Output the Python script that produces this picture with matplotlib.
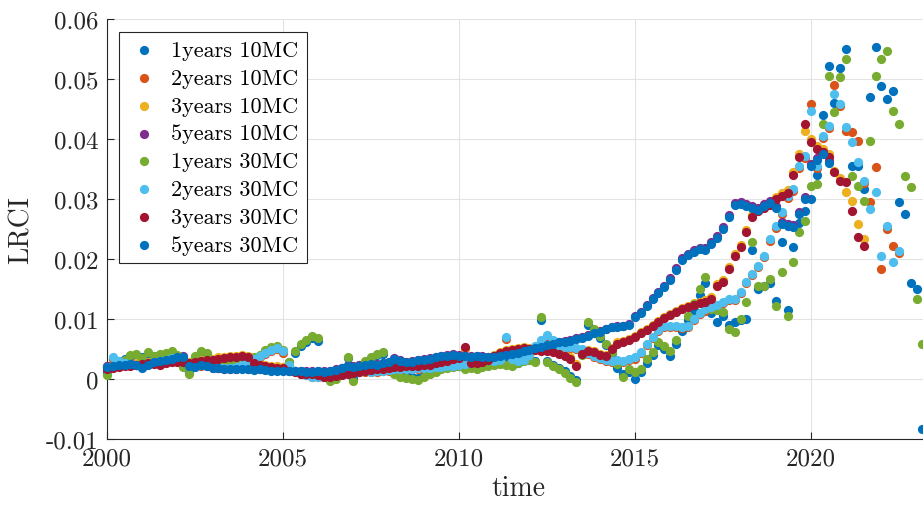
import numpy as np
import matplotlib
matplotlib.use("Agg")
import matplotlib.pyplot as plt

# LRCI values in units of 1e-3, one value every two months from Jan 2000
y1_10mc = [1.2, 2.4, 3.0, 3.4, 3.8, 4.0, 3.6, 4.2, 3.9, 4.0, 4.1, 4.3,
           3.8, 2.2, 1.2, 3.6, 4.4, 4.2, 3.1, 2.8, 3.0, 2.9, 2.7, 3.0,
           3.2, 3.5, 3.9, 4.6, 5.0, 5.2, 4.6, 2.9, 4.4, 5.5, 6.2, 6.8,
           6.4, 0.8, 0.1, 0.3, 1.8, 3.5, 0.2, 2.3, 2.9, 3.4, 4.0, 4.2,
           2.1, 1.1, 0.6, 0.5, 0.3, 0.2, 0.6, 1.0, 1.4, 1.8, 2.0, 2.1,
           2.2, 1.9, 2.0, 1.9, 2.1, 2.4, 2.5, 2.6, 2.5, 2.4, 2.7, 3.1,
           3.2, 3.0, 9.8, 3.0, 2.4, 1.9, 1.3, 0.5, -0.2, 4.2, 9.0, 8.0,
           6.9, 5.6, 4.3, 1.8, 0.8, 1.2, 0.0, 1.2, 2.6, 4.0, 5.6, 5.0,
           3.8, 5.8, 8.0, 9.8, 11.5, 14.0, 16.0, 11.0, 9.5, 10.5, 9.0, 9.5,
           9.8, 10.0, 21.5, 15.0, 15.5, 16.0, 13.0, 22.8, 11.5, 22.0, 26.0, 28.0,
           30.0, 34.0, 44.0, 52.2, 46.0, 51.8, 55.0, 35.5, 35.5, 31.7, 47.0, 55.3,
           48.8, 46.7, 48.0, 29.5, 27.5, 16.0, 15.0, -8.3]
y2_10mc = [2.2, 3.3, 2.8, 2.5, 2.4, 2.3, 2.2, 2.5, 2.8, 2.9, 3.1, 3.3,
           3.2, 3.0, 2.5, 2.3, 2.2, 2.3, 2.1, 1.9, 1.7, 1.7, 1.9, 2.2,
           2.6, 3.1, 3.6, 4.1, 4.6, 5.0, 4.4, 2.3, 1.3, 0.9, 0.6, 0.4,
           0.3, 0.4, 0.6, 0.7, 0.9, 1.0, 1.1, 1.1, 1.2, 1.1, 1.2, 1.3,
           1.4, 1.5, 1.5, 1.6, 1.6, 1.7, 1.7, 1.8, 1.9, 1.9, 2.0, 2.1,
           2.2, 2.4, 2.6, 2.8, 2.9, 3.0, 2.9, 3.0, 6.6, 3.2, 2.9, 3.1,
           3.8, 5.2, 6.2, 7.0, 6.2, 5.3, 5.2, 5.1, 5.0, 4.8, 4.1, 3.6,
           3.3, 3.0, 2.8, 2.9, 2.8, 3.1, 3.4, 4.3, 5.6, 6.8, 8.0, 8.6,
           8.7, 8.6, 8.5, 8.6, 9.8, 10.8, 11.4, 11.8, 12.2, 12.6, 13.1, 13.1,
           14.3, 16.0, 17.3, 18.6, 20.3, 23.0, 25.2, 27.5, 30.2, 31.4, 35.2, 36.9,
           45.8, 35.2, 40.2, 41.9, 49.0, 45.5, 41.3, 41.2, 39.7, 32.7, 29.5, 35.3,
           18.3, 25.0, 22.2, 21.0]
y3_10mc = [2.0, 2.2, 2.3, 2.4, 2.5, 2.6, 2.7, 2.8, 2.7, 2.6, 2.8, 3.0,
           3.1, 3.0, 2.8, 3.0, 3.2, 3.3, 3.4, 3.6, 3.7, 3.8, 3.9, 4.0,
           3.8, 2.8, 2.5, 2.3, 2.2, 2.1, 2.0, 1.6, 1.3, 1.1, 1.0, 1.0,
           0.8, 0.6, 0.5, 0.7, 0.9, 1.0, 1.2, 1.4, 1.5, 1.7, 1.8, 1.9,
           2.1, 2.2, 2.2, 2.3, 2.3, 2.4, 2.5, 2.6, 2.8, 3.0, 3.2, 3.5,
           3.7, 5.0, 2.8, 2.9, 3.0, 3.4, 4.0, 4.5, 4.8, 5.0, 5.2, 5.3,
           5.2, 5.0, 4.9, 4.8, 4.7, 4.4, 4.0, 3.6, 2.5, 4.4, 4.9, 4.7,
           4.2, 4.0, 5.2, 6.1, 6.4, 6.7, 7.2, 7.8, 8.4, 9.0, 9.7, 10.3,
           10.8, 11.4, 11.9, 12.2, 12.6, 12.9, 13.1, 13.6, 15.8, 16.5, 18.6, 20.8,
           22.3, 24.8, 27.3, 28.3, 28.8, 29.3, 30.3, 31.0, 31.5, 34.5, 37.5, 41.3,
           40.0, 38.8, 38.3, 37.5, 34.7, 33.5, 31.2, 29.7, 25.8, 23.3]
y5_10mc = [2.1, 2.2, 2.4, 2.5, 2.6, 2.4, 2.0, 2.5, 2.9, 3.1, 3.3, 3.5,
           3.7, 3.8, 2.2, 2.1, 2.4, 2.2, 1.9, 1.9, 1.8, 1.8, 1.7, 1.8,
           1.7, 1.6, 1.7, 1.6, 1.5, 1.5, 1.5, 1.5, 1.4, 1.4, 1.3, 1.3,
           1.4, 1.3, 1.4, 1.6, 1.9, 2.3, 2.1, 2.3, 2.5, 2.6, 2.5, 2.7,
           2.9, 3.5, 3.1, 2.9, 3.0, 3.2, 3.3, 3.5, 3.7, 3.9, 4.0, 4.1,
           4.0, 3.9, 3.8, 3.9, 3.8, 3.7, 3.8, 4.0, 4.1, 4.2, 4.4, 4.7,
           4.9, 5.2, 5.5, 5.7, 5.9, 6.2, 6.3, 6.5, 6.8, 7.0, 7.3, 7.7,
           8.0, 8.4, 8.7, 8.8, 8.9, 9.1, 10.5, 11.2, 12.4, 13.5, 14.5, 15.5,
           16.8, 18.5, 20.1, 20.9, 21.5, 21.9, 21.8, 22.8, 23.8, 25.3, 27.3, 29.3,
           29.5, 29.1, 28.8, 28.5, 29.1, 29.6, 28.8, 26.1, 25.8, 25.7, 27.8, 30.3,
           35.8, 36.8, 37.8, 36.3]
y1_30mc = [0.6, 2.2, 2.8, 3.2, 4.0, 4.2, 3.5, 4.5, 3.8, 4.2, 4.3, 4.6,
           4.0, 2.0, 0.8, 3.8, 4.7, 4.4, 3.0, 2.6, 3.0, 2.8, 2.6, 3.0,
           3.3, 3.6, 4.0, 4.8, 5.3, 5.5, 4.8, 2.8, 4.7, 5.8, 6.5, 7.2,
           6.8, 0.5, -0.3, 0.0, 1.7, 3.7, -0.3, 2.2, 3.0, 3.6, 4.2, 4.5,
           2.0, 0.8, 0.3, 0.2, 0.0, -0.2, 0.3, 0.8, 1.2, 1.7, 1.9, 2.0,
           2.1, 1.7, 1.8, 1.7, 2.0, 2.2, 2.3, 2.5, 2.3, 2.2, 2.6, 3.0,
           3.1, 2.9, 10.3, 2.8, 2.2, 1.7, 1.0, 0.2, -0.5, 4.0, 9.5, 8.3,
           7.2, 5.8, 4.5, 2.5, 0.3, 1.7, 1.2, 1.7, 3.3, 4.5, 6.2, 5.5,
           4.7, 6.5, 8.7, 10.5, 12.5, 15.0, 17.0, 11.7, 11.5, 11.2, 8.3, 7.8,
           10.0, 12.8, 22.8, 15.5, 15.5, 16.7, 12.2, 17.8, 10.5, 19.5, 24.5, 26.3,
           32.2, 32.5, 42.5, 50.5, 44.5, 50.3, 53.3, 33.8, 32.2, 29.7, 39.7, 50.5,
           53.3, 54.7, 44.7, 42.5, 33.8, 32.0, 13.3, 5.8]
y2_30mc = [2.0, 3.6, 3.0, 2.6, 2.5, 2.4, 2.3, 2.6, 2.9, 3.0, 3.2, 3.5,
           3.4, 3.2, 2.6, 2.4, 2.3, 2.4, 2.2, 2.0, 1.8, 1.8, 2.0, 2.3,
           2.8, 3.3, 3.8, 4.3, 4.8, 5.2, 4.6, 2.4, 1.4, 1.0, 0.6, 0.4,
           0.3, 0.5, 0.6, 0.8, 1.0, 1.1, 1.2, 1.2, 1.3, 1.2, 1.3, 1.4,
           1.5, 1.6, 1.6, 1.7, 1.7, 1.8, 1.8, 1.9, 2.0, 2.0, 2.1, 2.2,
           2.3, 2.5, 2.7, 2.9, 3.0, 3.1, 3.0, 3.1, 7.0, 3.3, 3.0, 3.2,
           4.0, 5.5, 6.5, 7.3, 6.5, 5.5, 5.4, 5.3, 5.2, 5.0, 4.3, 3.8,
           3.5, 3.2, 3.0, 3.1, 3.0, 3.3, 3.6, 4.5, 5.8, 7.0, 8.2, 8.8,
           8.9, 8.8, 8.7, 8.8, 10.0, 11.0, 11.6, 12.0, 12.4, 12.8, 13.3, 13.3,
           14.5, 16.2, 17.5, 18.8, 20.5, 23.3, 25.5, 27.8, 30.5, 31.7, 35.5, 37.2,
           44.7, 35.5, 40.5, 42.2, 47.5, 45.8, 42.0, 39.5, 36.2, 33.0, 28.3, 31.2,
           20.5, 25.5, 19.5, 21.3]
y3_30mc = [1.7, 1.8, 2.0, 2.1, 2.2, 2.4, 2.5, 2.6, 2.5, 2.4, 2.6, 2.8,
           2.9, 2.8, 2.6, 2.8, 3.0, 3.1, 3.2, 3.4, 3.5, 3.6, 3.7, 3.8,
           3.6, 2.6, 2.3, 2.1, 2.0, 1.9, 1.8, 1.4, 1.1, 0.9, 0.8, 0.8,
           0.6, 0.4, 0.3, 0.5, 0.7, 0.8, 1.0, 1.2, 1.3, 1.5, 1.6, 1.7,
           1.9, 2.0, 2.0, 2.1, 2.1, 2.2, 2.3, 2.4, 2.6, 2.8, 3.0, 3.3,
           3.5, 5.3, 2.6, 2.7, 2.8, 3.2, 3.8, 4.3, 4.6, 4.8, 5.0, 5.1,
           5.0, 4.8, 4.7, 4.6, 4.5, 4.2, 3.8, 3.4, 2.2, 4.2, 4.7, 4.5,
           4.0, 3.8, 5.0, 5.9, 6.2, 6.5, 7.0, 7.6, 8.2, 8.8, 9.5, 10.1,
           10.6, 11.2, 11.7, 12.0, 12.4, 12.7, 12.9, 13.3, 15.5, 16.2, 18.3, 20.5,
           22.0, 24.5, 27.0, 28.0, 28.5, 29.0, 30.0, 30.5, 31.0, 34.0, 37.0, 42.5,
           39.5, 38.3, 37.8, 37.0, 34.5, 33.0, 32.8, 28.0, 23.7, 22.2]
y5_30mc = [2.0, 2.1, 2.3, 2.4, 2.5, 2.3, 1.9, 2.4, 2.8, 3.0, 3.2, 3.4,
           3.6, 3.7, 2.1, 2.0, 2.3, 2.1, 1.8, 1.8, 1.7, 1.7, 1.6, 1.7,
           1.6, 1.5, 1.6, 1.5, 1.4, 1.4, 1.4, 1.4, 1.3, 1.3, 1.2, 1.2,
           1.3, 1.2, 1.3, 1.5, 1.8, 2.2, 2.0, 2.2, 2.4, 2.5, 2.4, 2.6,
           2.8, 3.4, 3.0, 2.8, 2.9, 3.1, 3.2, 3.4, 3.6, 3.8, 3.9, 4.0,
           3.9, 3.8, 3.7, 3.8, 3.7, 3.6, 3.7, 3.9, 4.0, 4.1, 4.3, 4.6,
           4.8, 5.1, 5.4, 5.6, 5.8, 6.1, 6.2, 6.4, 6.7, 6.9, 7.2, 7.6,
           7.9, 8.3, 8.6, 8.7, 8.8, 9.0, 10.3, 11.0, 12.2, 13.3, 14.3, 15.3,
           16.5, 18.2, 19.8, 20.6, 21.2, 21.6, 21.5, 22.5, 23.5, 25.0, 27.0, 29.0,
           29.2, 28.8, 28.5, 28.2, 28.8, 29.3, 28.5, 25.8, 25.5, 25.4, 27.5, 30.0,
           35.5, 36.5, 37.5, 36.0]

labels = ["1years 10MC", "2years 10MC", "3years 10MC", "5years 10MC",
          "1years 30MC", "2years 30MC", "3years 30MC", "5years 30MC"]
colors = ["#0072BD", "#D95319", "#EDB120", "#7E2F8E",
          "#77AC30", "#4DBEEE", "#A2142F", "#0072BD"]
series = [y1_10mc, y2_10mc, y3_10mc, y5_10mc,
          y1_30mc, y2_30mc, y3_30mc, y5_30mc]

plt.rcParams['font.family'] = 'cmr10'
plt.rcParams['mathtext.fontset'] = 'cm'
plt.rcParams['axes.unicode_minus'] = False

fig = plt.figure(figsize=(9.23, 5.06), dpi=100)
ax = fig.add_axes([107 / 923, 66 / 506, 823 / 923, 420 / 506])

for vals, lab, col in zip(series, labels, colors):
    v = np.array(vals) * 1e-3
    t = 2000 + np.arange(len(v)) / 6
    ax.scatter(t, v, s=44, color=col, linewidths=0, label=lab,
               clip_on=False, zorder=3)

ax.set_xlim(2000, 2000 + 823 / 35.2)
ax.set_ylim(-0.01, 0.06)
ax.set_xticks([2000, 2005, 2010, 2015, 2020])
ax.set_xticklabels(["2000", "2005", "2010", "2015", "2020"])
yt = [-0.01, 0, 0.01, 0.02, 0.03, 0.04, 0.05, 0.06]
ax.set_yticks(yt)
ax.set_yticklabels(["-0.01", "0", "0.01", "0.02", "0.03", "0.04", "0.05", "0.06"])
ax.tick_params(direction='in', length=5, width=0.8, color='#262626',
               labelcolor='#262626', labelsize=18, pad=6)
ax.grid(True, color='#e3e3e3', linewidth=0.8)
ax.set_axisbelow(True)
for side in ['top', 'right']:
    ax.spines[side].set_visible(False)
for side in ['left', 'bottom']:
    ax.spines[side].set_color('#262626')
    ax.spines[side].set_linewidth(0.8)

ax.set_xlabel("time", fontsize=20, color='#262626', labelpad=4)
ax.set_ylabel("LRCI", fontsize=20, color='#262626', labelpad=8)

leg = ax.legend(loc='upper left', bbox_to_anchor=(12 / 823, 407 / 420),
                borderaxespad=0, fontsize=16, frameon=True, fancybox=False,
                edgecolor='#262626', framealpha=1, scatterpoints=1,
                handlelength=1.5, handletextpad=0.48, labelspacing=0.37,
                borderpad=0.38)
leg.get_frame().set_linewidth(0.8)

fig.savefig("out.png", dpi=100)
